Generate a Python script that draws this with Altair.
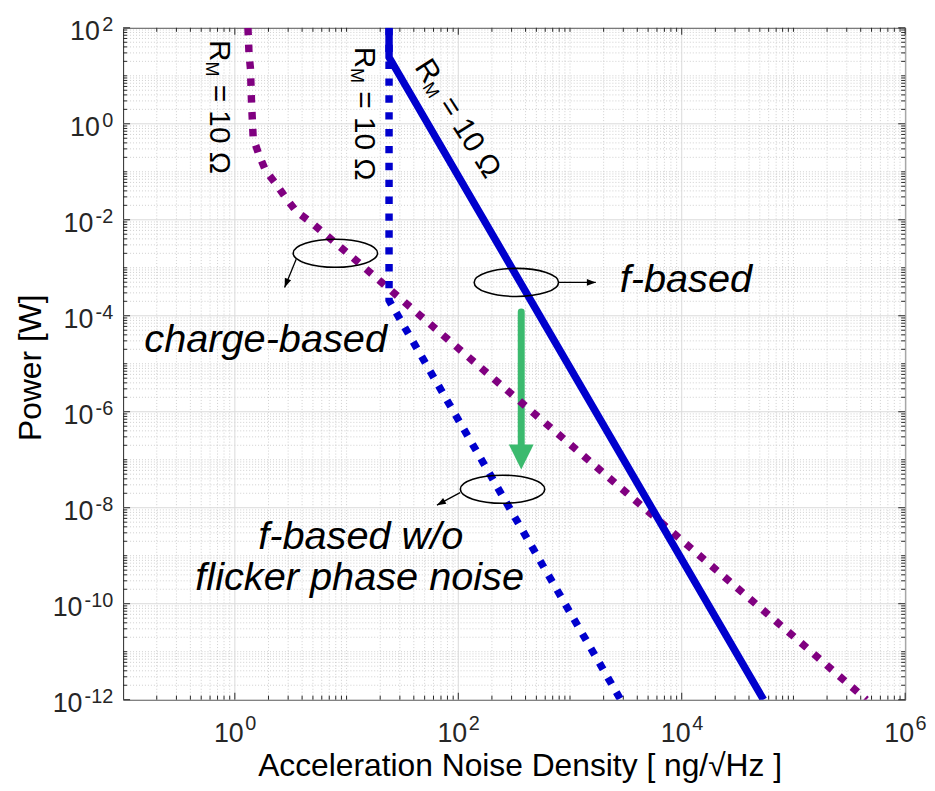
import altair as alt
import pandas as pd

# ---------------- data ----------------
# charge-based (purple dotted)
charge_x = [1.31, 1.34, 1.38, 1.41, 1.46, 1.65, 1.89, 2.36, 2.88, 3.54, 5.0, 10, 100, 1000, 1e4, 1e5, 4.5e5]
charge_y = [100, 28, 14, 2.8, 0.5, 0.22, 0.105, 0.054, 0.028, 0.015, 8.2e-3, 2.1e-3, 2.1e-5, 2.1e-7, 2.1e-9, 2.1e-11, 1e-12]
# f-based (blue solid)
fbased_x = [24, 24, 5.4e4]
fbased_y = [100, 24.3, 1e-12]
# f-based w/o flicker phase noise (blue dotted)
fwo_x = [24, 24, 2840]
fwo_y = [100, 2.1e-4, 1e-12]

# axis tick values / labels
x_label_vals = [1, 1e2, 1e4, 1e6]
x_label_exp = ["0", "2", "4", "6"]
y_label_vals = [1e2, 1, 1e-2, 1e-4, 1e-6, 1e-8, 1e-10, 1e-12]
y_label_exp = ["2", "0", "-2", "-4", "-6", "-8", "-10", "-12"]
x_decades = list(range(-1, 6))
y_decades = list(range(-12, 2))
x_odd_decades = [1, 3, 5]
y_odd_decades = [-11, -9, -7, -5, -3, -1, 1]

# annotations
ann_text = ["charge-based", "f-based", "f-based w/o", "flicker phase noise"]
ann_x = [1.887, 1.09e4, 13.4, 13.1]
ann_y = [1.77e-5, 3.08e-4, 1.39e-9, 1.91e-10]

ell_x = [7.94, 331, 249]
ell_y = [2.01e-3, 4.95e-4, 2.43e-8]

arr_x1 = [3.54, 787, 103.8]
arr_y1 = [1.51e-3, 4.95e-4, 2.07e-8]
arr_x2 = [2.79, 1702, 64.4]
arr_y2 = [3.9e-4, 4.95e-4, 1.13e-8]
arr_angle = [202, 90, 241]

green_x = [366]
green_top = [1.2e-4]
green_bottom = [1.63e-7]
green_head = [1.14e-7]

rm_vert_x = [0.605, 11.8]
rm_vert_y = [55.6, 40.5]
rm_slant_x = [40.1]
rm_slant_y = [15.3]

# ---------------- styling ----------------
W, H = 788, 677
FONT = "Liberation Sans"
AX = "#262626"
PURPLE = "#800080"
BLUE = "#0000CD"
GREEN = "#3BBA6E"

XS = alt.Scale(type="log", domain=[0.1, 1e6], nice=False)
YS = alt.Scale(type="log", domain=[1e-12, 1e2], nice=False)


def X(f="x"):
    return alt.X(f"{f}:Q", scale=XS, axis=None)


def Y(f="y"):
    return alt.Y(f"{f}:Q", scale=YS, axis=None)


x_minor = [k * 10.0 ** d for d in x_decades for k in range(2, 10)] + [10.0 ** d for d in x_odd_decades]
y_minor = [k * 10.0 ** d for d in y_decades for k in range(2, 10)] + [10.0 ** d for d in y_odd_decades]

df_xminor = pd.DataFrame({"v": x_minor})
df_yminor = pd.DataFrame({"v": y_minor})
df_xmajor = pd.DataFrame({"v": x_label_vals, "e": x_label_exp, "b": ["10"] * len(x_label_vals)})
df_ymajor = pd.DataFrame({"v": y_label_vals, "e": y_label_exp, "b": ["10"] * len(y_label_vals),
                          "n": [len(e) for e in y_label_exp]})

layers = []

# grids
layers.append(alt.Chart(df_xminor).mark_rule(color="#C4C4C4", strokeWidth=0.8, strokeDash=[1, 2]).encode(x=X("v")))
layers.append(alt.Chart(df_yminor).mark_rule(color="#C4C4C4", strokeWidth=0.8, strokeDash=[1, 2]).encode(y=Y("v")))
layers.append(alt.Chart(df_xmajor).mark_rule(color="#DADADA", strokeWidth=1).encode(x=X("v")))
layers.append(alt.Chart(df_ymajor).mark_rule(color="#DADADA", strokeWidth=1).encode(y=Y("v")))

# ticks (inward, all four sides)
for df, ln in ((df_xmajor, 7), (df_xminor, 4)):
    layers.append(alt.Chart(df).mark_rule(color=AX, strokeWidth=1).encode(
        x=X("v"), y=alt.value(H), y2=alt.value(H - ln)))
    layers.append(alt.Chart(df).mark_rule(color=AX, strokeWidth=1).encode(
        x=X("v"), y=alt.value(0), y2=alt.value(ln)))
for df, ln in ((df_ymajor, 7), (df_yminor, 4)):
    layers.append(alt.Chart(df).mark_rule(color=AX, strokeWidth=1).encode(
        y=Y("v"), x=alt.value(0), x2=alt.value(ln)))
    layers.append(alt.Chart(df).mark_rule(color=AX, strokeWidth=1).encode(
        y=Y("v"), x=alt.value(W), x2=alt.value(W - ln)))

# green arrow
df_green = pd.DataFrame({"x": green_x, "y": green_top, "y2": green_bottom, "h": green_head})
layers.append(alt.Chart(df_green).mark_rule(color=GREEN, strokeWidth=7, strokeCap="round").encode(
    x=X("x"), y=Y("y"), y2="y2:Q"))
layers.append(alt.Chart(df_green).mark_point(shape="M -1 -1 L 1 -1 L 0 1 Z", filled=True, color=GREEN,
                                             size=625, opacity=1).encode(x=X("x"), y=Y("h")))

# curves
df_charge = pd.DataFrame({"x": charge_x, "y": charge_y, "i": range(len(charge_x))})
df_fb = pd.DataFrame({"x": fbased_x, "y": fbased_y, "i": range(len(fbased_x))})
df_fwo = pd.DataFrame({"x": fwo_x, "y": fwo_y, "i": range(len(fwo_x))})

layers.append(alt.Chart(df_charge).mark_line(color=PURPLE, strokeWidth=7.5, strokeDash=[7.5, 9.5],
                                             strokeCap="butt", clip=True).encode(
    x=X(), y=Y(), order="i:Q"))
layers.append(alt.Chart(df_fwo).mark_line(color=BLUE, strokeWidth=7.5, strokeDash=[7.5, 9.5],
                                          strokeCap="butt", clip=True).encode(
    x=X(), y=Y(), order="i:Q"))
layers.append(alt.Chart(df_fb).mark_line(color=BLUE, strokeWidth=7.5, clip=True).encode(
    x=X(), y=Y(), order="i:Q"))

# ellipses
ELLIPSE = ("M 1 0 C 1 0.184 0.552 0.333 0 0.333 C -0.552 0.333 -1 0.184 -1 0 "
           "C -1 -0.184 -0.552 -0.333 0 -0.333 C 0.552 -0.333 1 -0.184 1 0 Z")
df_ell = pd.DataFrame({"x": ell_x, "y": ell_y})
layers.append(alt.Chart(df_ell).mark_point(shape=ELLIPSE, filled=False, stroke="black", strokeWidth=1.6,
                                           size=7225, opacity=1).encode(x=X(), y=Y()))

# black arrows
df_arr = pd.DataFrame({"x": arr_x1, "y": arr_y1, "x2": arr_x2, "y2": arr_y2, "a": arr_angle})
layers.append(alt.Chart(df_arr).mark_rule(color="black", strokeWidth=1.3).encode(
    x=X("x"), y=Y("y"), x2="x2:Q", y2="y2:Q"))
layers.append(alt.Chart(df_arr).mark_point(shape="M 0 0 L 0.75 2 L -0.75 2 Z", filled=True, color="black",
                                           size=81, opacity=1).encode(
    x=X("x2"), y=Y("y2"), angle=alt.Angle("a:Q", scale=None)))

# annotation texts
df_ann = pd.DataFrame({"x": ann_x, "y": ann_y, "t": ann_text})
layers.append(alt.Chart(df_ann).mark_text(font=FONT, fontSize=40, fontStyle="italic", color="black",
                                          align="center", baseline="alphabetic").encode(
    x=X(), y=Y(), text="t:N"))

# R_M = 10 Ohm labels
for xs, ys, ang in ((rm_vert_x, rm_vert_y, 90), (rm_slant_x, rm_slant_y, 57.5)):
    dfr = pd.DataFrame({"x": xs, "y": ys, "r": ["R"] * len(xs), "m": ["M"] * len(xs),
                        "t": ["= 10 \u03a9"] * len(xs)})
    layers.append(alt.Chart(dfr).mark_text(font=FONT, fontSize=30, color="black", align="left",
                                           baseline="alphabetic", angle=ang).encode(
        x=X(), y=Y(), text="r:N"))
    layers.append(alt.Chart(dfr).mark_text(font=FONT, fontSize=18, color="black", align="left",
                                           baseline="alphabetic", angle=ang, dx=21.5, dy=4).encode(
        x=X(), y=Y(), text="m:N"))
    layers.append(alt.Chart(dfr).mark_text(font=FONT, fontSize=30, color="black", align="left",
                                           baseline="alphabetic", angle=ang, dx=45).encode(
        x=X(), y=Y(), text="t:N"))

# x tick labels (10 + superscript)
layers.append(alt.Chart(df_xmajor).mark_text(font=FONT, fontSize=27, color=AX, align="right",
                                             baseline="alphabetic", dx=9).encode(
    x=X("v"), y=alt.value(H + 43), text="b:N"))
layers.append(alt.Chart(df_xmajor).mark_text(font=FONT, fontSize=20, color=AX, align="left",
                                             baseline="alphabetic", dx=10.5).encode(
    x=X("v"), y=alt.value(H + 31), text="e:N"))

# y tick labels
layers.append(alt.Chart(df_ymajor).mark_text(font=FONT, fontSize=20, color=AX, align="right",
                                             baseline="alphabetic", dy=3).encode(
    x=alt.value(-10), y=Y("v"), text="e:N"))
for n, dxb in ((1, -13.5), (2, -20), (3, -31)):
    layers.append(alt.Chart(df_ymajor).transform_filter(alt.datum.n == n).mark_text(
        font=FONT, fontSize=27, color=AX, align="right", baseline="alphabetic", dx=dxb, dy=12.5).encode(
        x=alt.value(-10), y=Y("v"), text="b:N"))

# axis titles
layers.append(alt.Chart(pd.DataFrame({"t": ["Acceleration Noise Density [ ng/\u221aHz ]"]})).mark_text(
    font=FONT, fontSize=32, color="black", align="center", baseline="alphabetic").encode(
    x=alt.value(400), y=alt.value(754), text="t:N"))
layers.append(alt.Chart(pd.DataFrame({"t": ["Power [W]"]})).mark_text(
    font=FONT, fontSize=32, color="black", align="center", baseline="alphabetic", angle=270).encode(
    x=alt.value(-83), y=alt.value(H / 2 + 4), text="t:N"))

chart = alt.layer(*layers).properties(
    width=W, height=H,
    padding={"left": 116, "top": 17, "right": 22, "bottom": 83},
    autosize=alt.AutoSizeParams(type="none"),
).configure_view(stroke=AX, strokeWidth=1)

chart.save("out.html", embed_options={"renderer": "svg", "actions": False})
